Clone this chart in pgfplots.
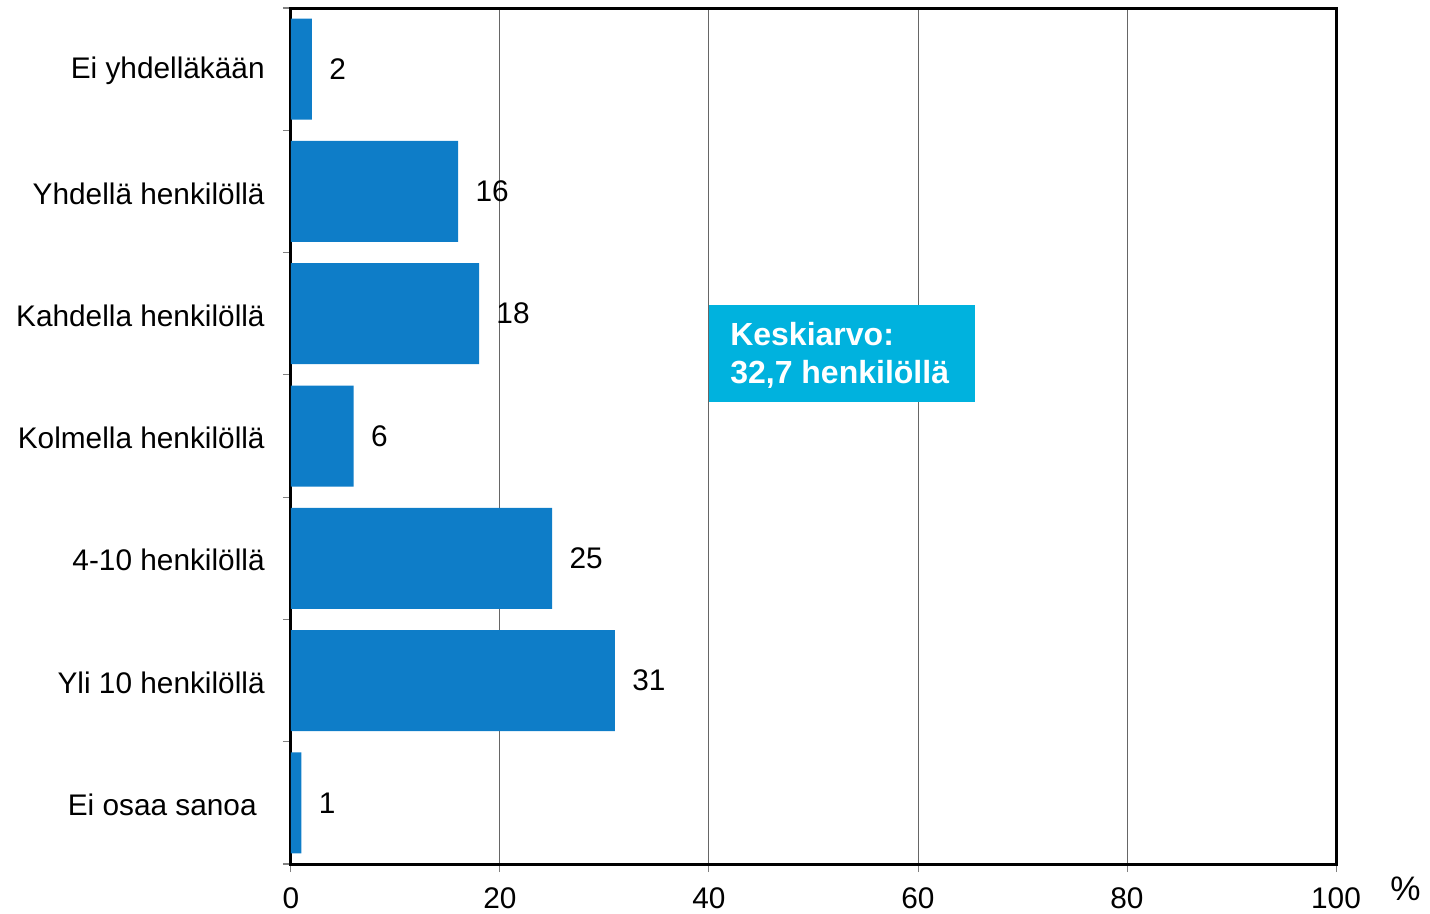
\documentclass[border=0pt]{standalone}
\usepackage{fontspec}
\setmainfont{Liberation Sans}
\usepackage{pgfplots}
\pgfplotsset{compat=1.18}
\definecolor{barblue}{HTML}{0E7DC8}
\definecolor{boxcyan}{HTML}{00B2DE}
\begin{document}
\fontsize{14.9}{18}\selectfont
\begin{tikzpicture}
\begin{axis}[
  at={(0,0)}, anchor=south west,
  width=522.5pt, height=428pt, scale only axis,
  xbar, bar width=50.5pt, bar shift=0pt,
  xmin=0, xmax=100,
  ymin=-0.5, ymax=6.5, y dir=reverse,
  xtick={0,20,40,60,80,100},
  /pgf/number format/assume math mode=true,
  ytick={0,1,2,3,4,5,6},
  yticklabels={Ei yhdelläkään, Yhdellä henkilöllä, Kahdella henkilöllä, Kolmella henkilöllä, 4-10 henkilöllä, Yli 10 henkilöllä, {Ei osaa sanoa\kern4pt}},
  minor ytick={-0.5,0.5,1.5,2.5,3.5,4.5,5.5,6.5},
  major y tick style={draw=none},
  minor y tick style={gray, line width=0.6pt},
  minor tick length=4pt,
  ytick pos=left, xtick pos=bottom,
  tick align=outside,
  major x tick style={gray, line width=0.5pt},
  major tick length=4pt,
  xmajorgrids,
  grid style={gray!80!black, line width=0.5pt},
  axis line style={line width=1.5pt, black},
  yticklabel style={font=\fontsize{14.9}{18}\selectfont, xshift=-4pt, yshift=-1pt},
  xticklabel style={font=\fontsize{14.9}{18}\selectfont, yshift=-2.5pt},
  nodes near coords,
  every node near coord/.append style={anchor=west, inner sep=0pt, xshift=8.5pt, font=\fontsize{14.9}{18}\selectfont, black},
  clip=false,
]
\addplot[fill=barblue, draw=none] coordinates {(2,0) (16,1) (18,2) (6,3) (25,4) (31,5) (1,6)};
\fill[boxcyan] (axis cs:40,1.93) rectangle (axis cs:65.45,2.72);
\node[anchor=north west, align=left, text=white, font=\bfseries\fontsize{16}{19}\selectfont, inner sep=0pt] at (axis cs:42,2.07) {Keskiarvo:\\32,7 henkilöllä};
\coordinate (sw) at (rel axis cs:0,0);
\coordinate (se) at (rel axis cs:1,0);
\end{axis}
\node[anchor=base west, inner sep=0pt, font=\fontsize{17}{20}\selectfont] at ([xshift=27pt,yshift=-18.5pt]se) {\%};
\pgfresetboundingbox
\path[use as bounding box] (sw) ++(-145.5pt,-25pt) rectangle ++(715pt,457pt);
\end{tikzpicture}
\end{document}
